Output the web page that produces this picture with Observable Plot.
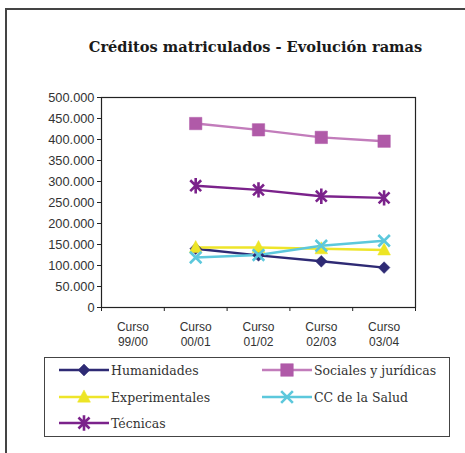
<!DOCTYPE html>
<html>
<head>
<meta charset="utf-8">
<script src="https://cdn.jsdelivr.net/npm/d3@7"></script>
<script src="https://cdn.jsdelivr.net/npm/@observablehq/plot@0.6"></script>
<style>
  html, body { margin: 0; padding: 0; background: #fff; }
  #page { position: relative; width: 465px; height: 453px; overflow: hidden; background: #fff; }
  #outer { position: absolute; left: 5px; top: 8px; width: 470px; height: 460px; border-left: 2px solid #444; border-top: 2px solid #444; box-sizing: border-box; }
  #title { position: absolute; left: 0; width: 511px; top: 38px; text-align: center; font-family: "DejaVu Serif", serif; font-weight: bold; font-size: 14.6px; color: #1a1a1a; }
  #chart { position: absolute; left: 0; top: 0; }
  #legend { position: absolute; left: 44px; top: 357px; width: 406px; height: 80px; border: 1px solid #444; box-sizing: border-box; }
  .item { position: absolute; display: flex; align-items: center; font-family: "DejaVu Serif", serif; font-size: 12.5px; color: #333; height: 20px; }
  .item svg { display: block; margin-right: 2px; }
</style>
</head>
<body>
<div id="page">
  <div id="outer"></div>
  <div id="title">Créditos matriculados - Evolución ramas</div>
  <div id="chart"></div>
  <div id="legend"></div>
</div>
<script>
// ---- data ----
const cursos = ["99/00", "00/01", "01/02", "02/03", "03/04"];
const tickLabels = ["Curso\n99/00", "Curso\n00/01", "Curso\n01/02", "Curso\n02/03", "Curso\n03/04"];
const seriesNames = ["Humanidades", "Sociales y jurídicas", "Experimentales", "CC de la Salud", "Técnicas"];
const humanidades    = [null, 140000, 124000, 110000, 95000];
const sociales       = [null, 438000, 423000, 405000, 396000];
const experimentales = [null, 143000, 143000, 140000, 137000];
const salud          = [null, 119000, 125000, 147000, 159000];
const tecnicas       = [null, 290000, 280000, 265000, 261000];
const yTicks = [0, 50000, 100000, 150000, 200000, 250000, 300000, 350000, 400000, 450000, 500000];

// ---- styles ----
const asterisk = {
  draw(ctx, size) {
    const r = Math.sqrt(size) * 0.62, d = r * Math.SQRT1_2;
    ctx.moveTo(0, -r); ctx.lineTo(0, r);
    ctx.moveTo(-d, -d); ctx.lineTo(d, d);
    ctx.moveTo(-d, d); ctx.lineTo(d, -d);
  }
};
const cross = {
  draw(ctx, size) {
    const d = Math.sqrt(size) * 0.5;
    ctx.moveTo(-d, -d); ctx.lineTo(d, d);
    ctx.moveTo(-d, d); ctx.lineTo(d, -d);
  }
};
const diamond = {
  draw(ctx, size) {
    const d = Math.sqrt(size) * 0.55;
    ctx.moveTo(0, -d); ctx.lineTo(d, 0); ctx.lineTo(0, d); ctx.lineTo(-d, 0); ctx.closePath();
  }
};
const triangle = {
  draw(ctx, size) {
    const d = Math.sqrt(size) * 0.55;
    ctx.moveTo(0, -d * 1.1); ctx.lineTo(d, d * 0.8); ctx.lineTo(-d, d * 0.8); ctx.closePath();
  }
};
const squareSym = {
  draw(ctx, size) {
    const d = Math.sqrt(size) * 0.5;
    ctx.rect(-d, -d, 2 * d, 2 * d);
  }
};

const styles = [
  {values: humanidades,    line: "#2e2a74", mark: "#2e2a74", symbol: diamond,   filled: true,  r: 12},
  {values: sociales,       line: "#c27cbb", mark: "#b05aa8", symbol: squareSym, filled: true,  r: 14},
  {values: experimentales, line: "#eee52a", mark: "#ede525", symbol: triangle,  filled: true,  r: 13},
  {values: salud,          line: "#5cc8dc", mark: "#5cc8dc", symbol: cross,     filled: false, r: 13},
  {values: tecnicas,       line: "#7b228b", mark: "#7b228b", symbol: asterisk,  filled: false, r: 14}
];

const rows = [];
styles.forEach((s, k) => {
  s.values.forEach((v, i) => {
    if (v != null) rows.push({serie: seriesNames[k], xi: i + 0.5, curso: cursos[i], v});
  });
});

const esFormat = d3.formatLocale({decimal: ",", thousands: ".", grouping: [3], currency: ["", ""]}).format(",");

const marks = [
  Plot.frame({stroke: "#222", strokeWidth: 1.2}),
  Plot.axisY({ticks: yTicks, tickSize: 4, tickFormat: esFormat, label: null, fontSize: 12.8, fill: "#333", stroke: "#222", tickPadding: 3}),
  Plot.axisX({ticks: d3.range(cursos.length + 1), tickSize: 4, tickFormat: () => "", label: null, stroke: "#222"}),
  Plot.axisX({ticks: d3.range(cursos.length).map(i => i + 0.5), tickSize: 0, tickPadding: 12, tickFormat: d => tickLabels[Math.floor(d)], label: null, fontSize: 12, fill: "#333", lineHeight: 1.3})
];
styles.forEach((s, k) => {
  const d = rows.filter(r => r.serie === seriesNames[k]);
  marks.push(Plot.line(d, {x: "xi", y: "v", stroke: s.line, strokeWidth: 2.4}));
});
styles.forEach((s, k) => {
  const d = rows.filter(r => r.serie === seriesNames[k]);
  marks.push(Plot.dot(d, {x: "xi", y: "v", symbol: s.symbol, r: s.r / 2,
    fill: s.filled ? s.mark : "none", stroke: s.mark, strokeWidth: s.filled ? 0.5 : 2.6}));
});

const chart = Plot.plot({
  width: 465,
  height: 360,
  marginLeft: 101,
  marginRight: 50,
  marginTop: 97,
  marginBottom: 53,
  style: {fontFamily: "'Liberation Sans', Arial, sans-serif", background: "transparent", overflow: "visible"},
  x: {type: "linear", domain: [0, cursos.length], axis: null},
  y: {domain: [0, 500000], axis: null},
  marks
});
document.getElementById("chart").appendChild(chart);

// ---- legend ----
const legend = document.getElementById("legend");
const legendPos = [[14, 2], [217, 2], [14, 29], [217, 29], [14, 55]];
styles.forEach((s, k) => {
  const item = document.createElement("div");
  item.className = "item";
  item.style.left = legendPos[k][0] + "px";
  item.style.top = legendPos[k][1] + "px";
  const svg = d3.create("svg").attr("width", 50).attr("height", 20);
  svg.append("line").attr("x1", 0).attr("x2", 50).attr("y1", 10).attr("y2", 10)
    .attr("stroke", s.line).attr("stroke-width", 2.4);
  svg.append("path").attr("transform", "translate(25,10)")
    .attr("d", d3.symbol(s.symbol, (s.r * 0.9) ** 2)())
    .attr("fill", s.filled ? s.mark : "none").attr("stroke", s.mark).attr("stroke-width", s.filled ? 0.5 : 2.6);
  item.appendChild(svg.node());
  const t = document.createElement("span");
  t.textContent = seriesNames[k];
  item.appendChild(t);
  legend.appendChild(item);
});
</script>
</body>
</html>
